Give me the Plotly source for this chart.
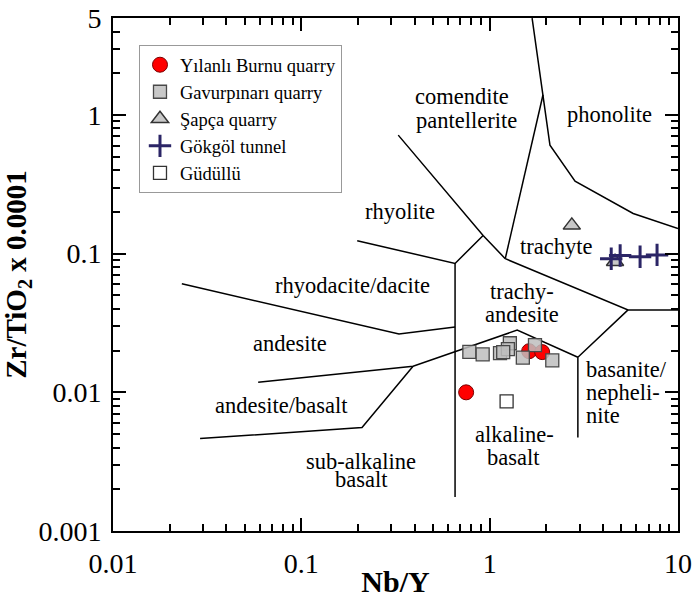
import math
import plotly.graph_objects as go

# ---- sample data (Nb/Y, Zr/TiO2 x 0.0001) ----
yilanli_x = [0.75, 1.62, 1.90]
yilanli_y = [0.0100, 0.0198, 0.0195]

gavur_x = [0.78, 0.918, 1.135, 1.28, 1.25, 1.18, 1.74, 1.50, 2.15]
gavur_y = [0.0196, 0.0188, 0.0192, 0.0226, 0.0205, 0.0195, 0.0219, 0.0178, 0.0170]

sapca_x = [2.73, 4.63]
sapca_y = [0.160, 0.0875]

gokgol_x = [4.42, 4.93, 6.29, 7.74]
gokgol_y = [0.092, 0.097, 0.095, 0.098]

gudullu_x = [1.23]
gudullu_y = [0.0086]

# ---- field boundaries (Winchester & Floyd) ----
b_alk_vert_x = [0.655, 0.655]
b_alk_vert_y = [0.085, 0.00176]
b_rhyodac_x = [0.0232, 0.33, 0.655]
b_rhyodac_y = [0.0606, 0.0263, 0.0296]
b_rhyol_x = [0.198, 0.655, 0.923]
b_rhyol_y = [0.124, 0.085, 0.135]
b_comend_x = [0.327, 0.923, 1.21]
b_comend_y = [0.716, 0.135, 0.092]
b_comtra_x = [1.21, 1.92]
b_comtra_y = [0.092, 1.40]
b_phono_x = [1.68, 1.92, 2.09, 2.84, 5.78, 10.0]
b_phono_y = [5.0, 1.40, 0.606, 0.333, 0.195, 0.152]
b_trach_x = [1.21, 5.43, 10.0]
b_trach_y = [0.092, 0.0393, 0.0393]
b_basan_x = [5.43, 2.94, 2.94]
b_basan_y = [0.0393, 0.0179, 0.00472]
b_tra_and_x = [0.059, 0.392, 1.40, 2.94]
b_tra_and_y = [0.0118, 0.0154, 0.0281, 0.0179]
b_subalk_x = [0.029, 0.21, 0.392]
b_subalk_y = [0.00464, 0.00557, 0.0154]

boundaries = [
    (b_alk_vert_x, b_alk_vert_y), (b_rhyodac_x, b_rhyodac_y), (b_rhyol_x, b_rhyol_y),
    (b_comend_x, b_comend_y), (b_comtra_x, b_comtra_y), (b_phono_x, b_phono_y),
    (b_trach_x, b_trach_y), (b_basan_x, b_basan_y), (b_tra_and_x, b_tra_and_y),
    (b_subalk_x, b_subalk_y),
]

# ---- field labels (one entry per text line) ----
label_text = ["comendite", "pantellerite", "phonolite", "rhyolite", "trachyte",
              "rhyodacite/dacite", "trachy-", "andesite", "andesite",
              "andesite/basalt", "sub-alkaline", "basalt", "alkaline-", "basalt",
              "basanite/", "nepheli-", "nite"]
label_x = [0.713, 0.749, 4.31, 0.334, 2.25, 0.188, 1.486, 1.486, 0.0871,
           0.078, 0.2075, 0.2075, 1.348, 1.331, 3.21, 3.21, 3.21]
label_y = [1.35, 0.920, 1.0, 0.2015, 0.1124, 0.0586, 0.0530, 0.0367, 0.02265,
           0.00805, 0.00316, 0.00234, 0.00496, 0.00338, 0.01468, 0.0100, 0.00681]
label_align = ["center"] * 14 + ["left", "left", "left"]

x_tickvals = [0.01, 0.1, 1, 10]
x_ticktext = ["0.01", "0.1", "1", "10"]
y_tickvals = [0.001, 0.01, 0.1, 1, 5]
y_ticktext = ["0.001", "0.01", "0.1", "1", "5"]

FONT = "Liberation Serif, Times New Roman, serif"

fig = go.Figure()

for bx, by in boundaries:
    fig.add_trace(go.Scatter(x=bx, y=by, mode="lines", line=dict(color="black", width=1.5),
                             showlegend=False, hoverinfo="skip"))

fig.add_trace(go.Scatter(x=yilanli_x, y=yilanli_y, mode="markers", name="Yılanlı Burnu quarry",
                         marker=dict(symbol="circle", size=15, color="#ff0000",
                                     line=dict(color="#7a0000", width=1))))
fig.add_trace(go.Scatter(x=gavur_x, y=gavur_y, mode="markers", name="Gavurpınarı quarry",
                         marker=dict(symbol="square", size=13, color="rgba(190,190,190,0.85)",
                                     line=dict(color="#484848", width=1.3))))
fig.add_trace(go.Scatter(x=sapca_x, y=sapca_y, mode="markers", name="Şapça quarry",
                         marker=dict(symbol="triangle-up", size=15, color="#c8c8c8",
                                     line=dict(color="#333333", width=1.5))))
fig.add_trace(go.Scatter(x=gokgol_x, y=gokgol_y, mode="markers", name="Gökgöl tunnel",
                         marker=dict(symbol="cross-thin", size=16,
                                     line=dict(color="#2b2566", width=3))))
fig.add_trace(go.Scatter(x=gudullu_x, y=gudullu_y, mode="markers", name="Güdüllü",
                         marker=dict(symbol="square", size=13, color="white",
                                     line=dict(color="#333333", width=1.3))))

for t, lx, ly, al in zip(label_text, label_x, label_y, label_align):
    fig.add_annotation(x=math.log10(lx), y=math.log10(ly), xref="x", yref="y", text=t,
                       showarrow=False, xanchor=al if al == "left" else "center",
                       borderpad=0,
                       font=dict(family=FONT, size=22.5, color="black"))

axis_common = dict(type="log", showline=True, linewidth=2, linecolor="black", mirror="allticks",
                   ticks="inside", ticklen=13, tickwidth=1.5, tickcolor="black",
                   showgrid=False, zeroline=False, automargin=False,
                   tickfont=dict(family=FONT, size=28, color="black"))

x_minor = [m * 10 ** e for e in (-2, -1, 0) for m in range(2, 10)]
y_minor = [m * 10 ** e for e in (-3, -2, -1) for m in range(2, 10)] + [2, 3, 4]

fig.update_xaxes(range=[-2, 1], tickmode="array", tickvals=x_tickvals, ticktext=x_ticktext,
                 minor=dict(ticks="inside", ticklen=7, tickwidth=1.5, tickcolor="black",
                            tickmode="array", tickvals=x_minor, showgrid=False),
                 ticklabelstandoff=6,
                 title=dict(text="<b>Nb/Y</b>", font=dict(family=FONT, size=30, color="black"),
                            standoff=2),
                 **axis_common)
fig.update_yaxes(range=[-3, math.log10(5) + 0.0005], tickmode="array", tickvals=y_tickvals,
                 ticktext=y_ticktext,
                 minor=dict(ticks="inside", ticklen=7, tickwidth=1.5, tickcolor="black",
                            tickmode="array", tickvals=y_minor, showgrid=False),
                 ticklabelstandoff=4,
                 title=dict(text="<b>Zr/TiO<sub>2</sub> x 0.0001</b>",
                            font=dict(family=FONT, size=29, color="black"), standoff=6),
                 **axis_common)

fig.update_layout(
    width=693, height=598,
    margin=dict(l=113, r=15, t=18, b=67, autoexpand=False),
    paper_bgcolor="white", plot_bgcolor="white",
    font=dict(family=FONT, color="black"),
    legend=dict(x=0.046, y=0.947, xanchor="left", yanchor="top",
                bgcolor="white", bordercolor="#999999", borderwidth=1,
                font=dict(family=FONT, size=18.5, color="black"),
                itemwidth=30, tracegroupgap=0),
)

fig.write_html(
    "out.html",
    config={"displayModeBar": False},
    post_script="document.body.style.margin='0';document.documentElement.style.overflow='hidden';",
)
